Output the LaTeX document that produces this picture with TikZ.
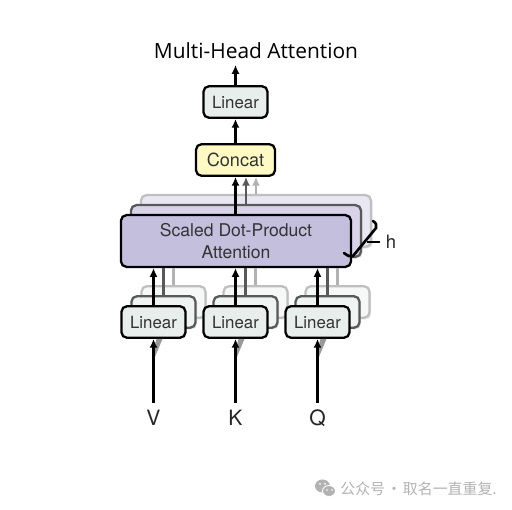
\documentclass[tikz,border=0pt]{standalone}
\usepackage{fontspec}
\setmainfont{TeX Gyre Heros}
\newfontfamily\titlefont{Open Sans}
\newfontfamily\cjkfont{Noto Sans CJK SC}
\usetikzlibrary{arrows.meta,shadows}
\definecolor{lincol}{RGB}{232,238,235}
\definecolor{sdpcol}{RGB}{197,191,222}
\definecolor{sdpmidcol}{RGB}{216,211,233}
\definecolor{sdpbackcol}{RGB}{234,231,244}
\definecolor{concatcol}{RGB}{255,250,196}
\definecolor{wmcol}{RGB}{178,178,178}
\tikzset{
  box/.style={draw=black,rounded corners=3.2pt,line width=1.3pt,inner sep=0pt,align=center,font=\fontsize{9.6}{12.5}\selectfont,text=black!80},
  softbox/.style={box,drop shadow={shadow xshift=0.9pt,shadow yshift=-0.9pt,opacity=0.22}},
  linbox/.style={box,fill=lincol,minimum width=36.5pt,minimum height=18pt},
  sdpbox/.style={minimum width=131pt,minimum height=29.5pt},
  arr/.style={-{Latex[length=5pt,width=4.6pt]},line width=1.3pt},
  midline/.style={line width=1.3pt,draw=black!65},
  backline/.style={line width=1.3pt,draw=black!30},
}
\begin{document}
\begin{tikzpicture}[x=0.02cm,y=-0.02cm]
\useasboundingbox (0,0) rectangle (512,510);
\node[font=\titlefont\fontsize{11.9}{14}\selectfont] (title) at (256,51) {Multi-Head Attention};
\coordinate (out) at (235.5,65);
% connectors behind the scaled dot-product stack
\node[softbox,sdpbox,fill=sdpbackcol,draw=black!25] (sdpback) at (256,221) {};
\node[softbox,sdpbox,fill=sdpmidcol,draw=black!65] (sdpmid) at (246,231) {};
\node[box,sdpbox,fill=sdpcol,font=\fontsize{10}{12.5}\selectfont] (sdp) at (236,241) {Scaled Dot-Product\\Attention};
\node[box,fill=concatcol,minimum width=45pt,minimum height=18pt,font=\fontsize{10.3}{12.5}\selectfont] (concat) at (235.5,160) {Concat};
\node[linbox] (lintop) at (235.5,102) {Linear};
\draw[arr] (lintop) -- (out);
\draw[arr] (concat) -- (lintop);
\draw[arr] (sdp.north -| concat) -- (concat);
\draw[arr,draw=black!65] (sdpmid.north) -- (sdpmid.north |- concat.south);
\draw[arr,draw=black!30] (sdpback.north) -- (sdpback.north |- concat.south);
% one stack per input
\foreach \name/\xpos/\lab in {v/153.5/V,k/235.5/K,q/317.5/Q} {
  \node[softbox,linbox,draw=black!25,fill=lincol!40] (\name back) at (\xpos+20,302) {};
  \node[softbox,linbox,draw=black!65,fill=lincol!70] (\name mid) at (\xpos+10,312) {};
  \draw[backline] (\name back.north) -- (\name back.north |- sdp.south);
  \draw[midline] (\name mid.north) -- (\name mid.north |- sdp.south);
  \node[linbox] (\name) at (\xpos,322) {Linear};
  \draw[arr] (\name) -- (\name |- sdp.south);
  \fill[black!40] (\xpos+3,339) -- (\xpos+9,339) -- (\xpos+1,358) -- (\xpos,350) -- cycle;
  \node[font=\fontsize{12}{14}\selectfont,text=black!85] (\name lab) at (\xpos,418) {\lab};
  \coordinate (\name in) at (\xpos,403);
  \draw[arr] (\name in) -- (\name);
}
% count of heads
\node[font=\fontsize{10.5}{12}\selectfont,text=black!85] (hlab) at (391,242) {h};
\coordinate (hend) at (367,242);
\draw[line width=0.8pt] (hlab.west) -- (hend);
\draw[line width=1.5pt,line cap=round] (344,253) .. controls (348,256) and (350,257) .. (353,256) -- (376,228) .. controls (377,225) and (376,223) .. (373,221);
% watermark
\fill[wmcol] (322.5,486) ellipse (7.5 and 6.5);
\fill[wmcol,draw=white,line width=0.5pt] (329,491) ellipse (6.5 and 5.5);
\fill[white] (320,484) circle (1) (325,484) circle (1) (327,490) circle (0.9) (332,490) circle (0.9);
\node[font=\cjkfont\fontsize{8.5}{10}\selectfont,text=wmcol,anchor=west,inner sep=0pt] (mark) at (340,489) {公众号\hspace{0.8pt}·\hspace{0.8pt}取名一直重复.};
\end{tikzpicture}
\end{document}
